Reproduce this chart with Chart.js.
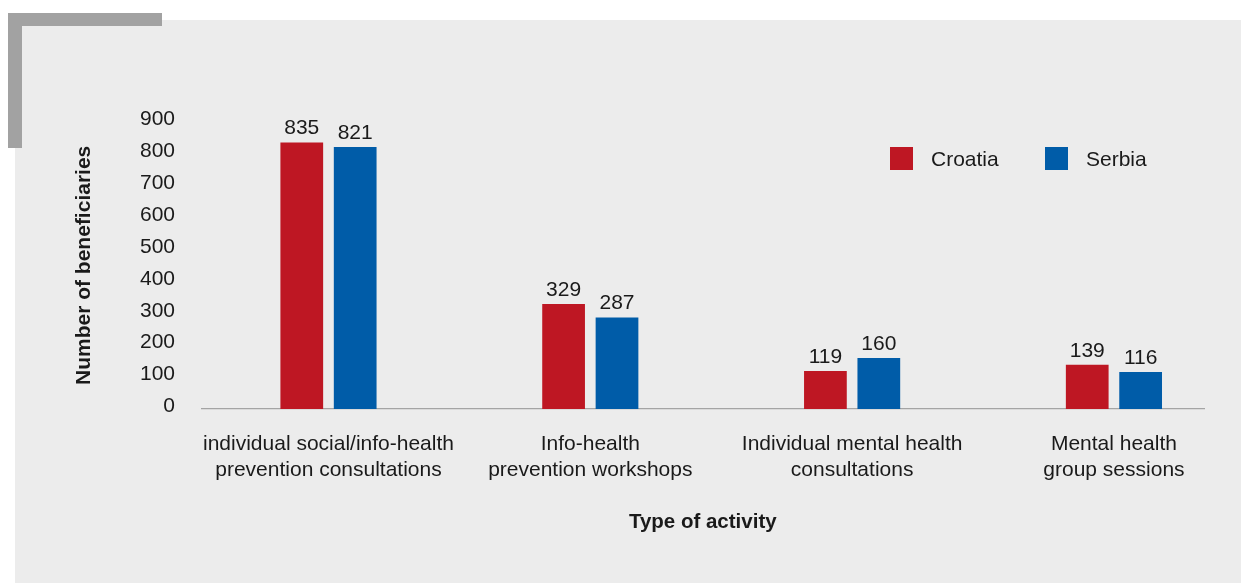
<!DOCTYPE html>
<html>
<head>
<meta charset="utf-8">
<script src="https://cdn.jsdelivr.net/npm/chart.js@4.4.1/dist/chart.umd.min.js"></script>
<style>
  html, body { margin: 0; padding: 0; background: #ffffff; overflow: hidden; }
  #wrap { position: relative; width: 1241px; height: 583px; }
  #panel { position: absolute; left: 15px; top: 20px; right: 0; bottom: 0; background: #ececec; }
  .brk { position: absolute; background: #a2a2a2; }
  #c { position: absolute; left: 0; top: 0; }
  #legend { position: absolute; left: 0; top: 0; font-family: 'Liberation Sans', Arial, sans-serif; font-size: 21px; color: #1a1a1a; }
  .item { position: absolute; top: 147px; height: 23px; display: flex; align-items: center; line-height: 23px; white-space: nowrap; }
  .sw { width: 23px; height: 23px; margin-right: 18px; }
</style>
</head>
<body>
<div id="wrap">
  <div id="panel"></div>
  <div class="brk" style="left:8px; top:13px; width:154px; height:13px;"></div>
  <div class="brk" style="left:8px; top:13px; width:14px; height:135px;"></div>
  <canvas id="c" width="1241" height="583"></canvas>
  <div id="legend"></div>
</div>
<script>
const categories = [
  ["individual social/info-health", "prevention consultations"],
  ["Info-health", "prevention workshops"],
  ["Individual mental health", "consultations"],
  ["Mental health", "group sessions"]
];
const seriesNames = ["Croatia", "Serbia"];
const croatia = [835, 329, 119, 139];
const serbia = [821, 287, 160, 116];
const yMax = 900;
const yStep = 100;
const colors = ["#be1723", "#005ca8"];

const FONT = "'Liberation Sans', Arial, sans-serif";
const TEXT = "#1a1a1a";
Chart.defaults.font.family = FONT;
Chart.defaults.color = TEXT;

const toPoints = arr => arr.map((v, i) => ({ x: i, y: v }));

const valueLabels = {
  id: 'valueLabels',
  afterDatasetsDraw(chart) {
    const ctx = chart.ctx;
    ctx.save();
    ctx.font = "21px " + FONT;
    ctx.fillStyle = TEXT;
    ctx.textAlign = 'center';
    ctx.textBaseline = 'alphabetic';
    chart.data.datasets.forEach((ds, di) => {
      const meta = chart.getDatasetMeta(di);
      meta.data.forEach((bar, i) => {
        ctx.fillText(String(ds.data[i].y), bar.x, bar.y - 8);
      });
    });
    ctx.restore();
  }
};

const chart = new Chart(document.getElementById('c'), {
  type: 'bar',
  data: {
    datasets: [
      { label: seriesNames[0], data: toPoints(croatia), backgroundColor: colors[0], borderWidth: 0 },
      { label: seriesNames[1], data: toPoints(serbia), backgroundColor: colors[1], borderWidth: 0 }
    ]
  },
  options: {
    responsive: false,
    animation: false,
    devicePixelRatio: 1,
    categoryPercentage: 0.408,
    barPercentage: 0.80,
    layout: { padding: { left: 68, top: 121.7, right: 37, bottom: 48.5 } },
    plugins: { legend: { display: false }, tooltip: { enabled: false } },
    scales: {
      x: {
        type: 'linear',
        offset: false,
        min: -0.485,
        max: 3.344,
        grid: { display: false, drawTicks: false },
        border: { display: true, color: '#a4a4a4', width: 1.3 },
        afterBuildTicks: (scale) => { scale.ticks = categories.map((_, i) => ({ value: i })); },
        afterFit: (scale) => { scale.height = 125.5; },
        ticks: {
          autoSkip: false,
          minRotation: 0,
          maxRotation: 0,
          padding: 22,
          font: { size: 21, lineHeight: 1.26 },
          color: TEXT,
          callback: (v) => categories[v]
        },
        title: {
          display: true,
          text: 'Type of activity',
          font: { size: 20.5, weight: 'bold', lineHeight: 1.2 },
          padding: { top: 0, bottom: 0 },
          color: TEXT
        }
      },
      y: {
        min: 0,
        max: yMax,
        grid: { display: false, drawTicks: false },
        border: { display: false },
        afterFit: (scale) => { scale.width = 133.5; },
        ticks: {
          stepSize: yStep,
          padding: 26.5,
          labelOffset: -2.5,
          font: { size: 21 },
          color: TEXT
        },
        title: {
          display: true,
          text: 'Number of beneficiaries',
          font: { size: 21, weight: 'bold', lineHeight: 1.2 },
          padding: { top: 4, bottom: 0 },
          color: TEXT
        }
      }
    }
  },
  plugins: [valueLabels]
});

// HTML legend built from the chart's datasets
const legend = document.getElementById('legend');
const legendLefts = [890, 1045];
chart.data.datasets.forEach((ds, i) => {
  const item = document.createElement('div');
  item.className = 'item';
  item.style.left = legendLefts[i] + 'px';
  const sw = document.createElement('span');
  sw.className = 'sw';
  sw.style.background = ds.backgroundColor;
  const tx = document.createElement('span');
  tx.textContent = ds.label;
  item.appendChild(sw);
  item.appendChild(tx);
  legend.appendChild(item);
});
</script>
</body>
</html>
